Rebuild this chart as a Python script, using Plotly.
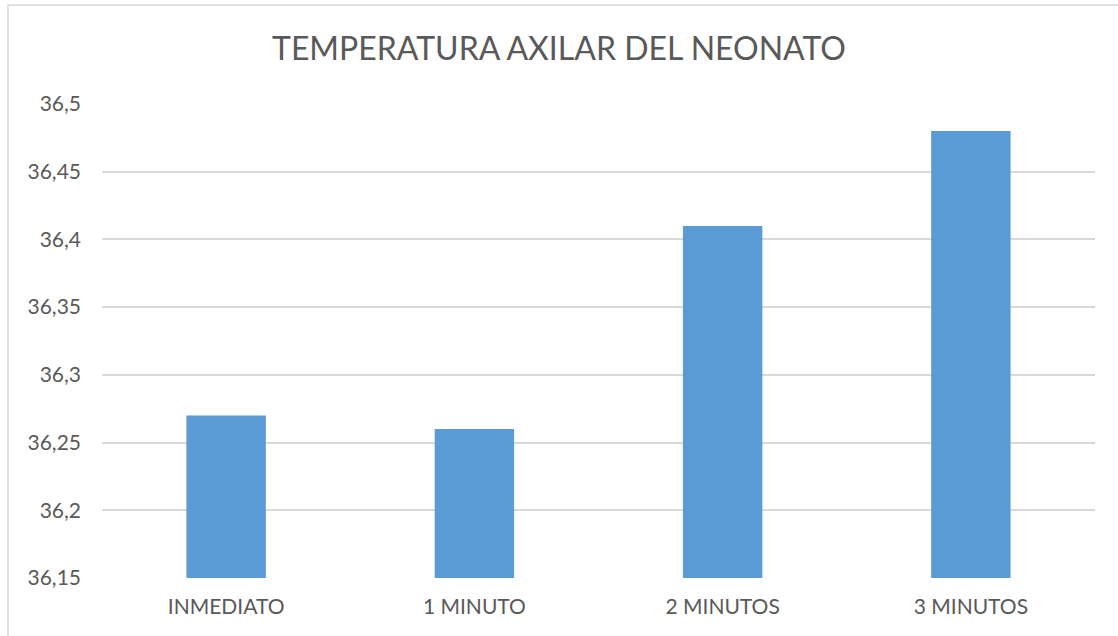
import plotly.graph_objects as go

categories = ["INMEDIATO", "1 MINUTO", "2 MINUTOS", "3 MINUTOS"]
values = [36.27, 36.26, 36.41, 36.48]
tick_vals = [36.15, 36.2, 36.25, 36.3, 36.35, 36.4, 36.45, 36.5]
tick_text = ["36,15", "36,2", "36,25", "36,3", "36,35", "36,4", "36,45", "36,5"]

W, H = 1118, 636
ml, mr, mt, mb = 102, 23, 104, 58
pw, ph = W - ml - mr, H - mt - mb

def px_x(p):
    return (p - ml) / pw

def px_y(p):
    return (H - mb - p) / ph

fig = go.Figure(go.Bar(
    x=categories, y=values, marker=dict(color="#5B9BD5", line=dict(width=0)),
))

font_family = "Lato, 'Open Sans', sans-serif"
fig.update_layout(
    width=W, height=H,
    margin=dict(l=ml, r=mr, t=mt, b=mb),
    paper_bgcolor="white", plot_bgcolor="white",
    bargap=0.68,
    showlegend=False,
    title=dict(text="TEMPERATURA AXILAR DEL NEONATO", x=0.5, xanchor="center",
               y=1 - 49 / H, yanchor="middle",
               font=dict(family=font_family, size=32, color="#595959")),
    font=dict(family=font_family, color="#595959", size=21),
    xaxis=dict(showgrid=False, showline=False, ticks="", ticklabelstandoff=14,
               tickfont=dict(size=21, color="#595959")),
    yaxis=dict(range=[36.15, 36.5], tickvals=tick_vals, ticktext=tick_text,
               showgrid=True, gridcolor="#D9D9D9", gridwidth=1.5, zeroline=False,
               showline=False, ticks="", ticklabelstandoff=20,
               tickfont=dict(size=21, color="#595959")),
    shapes=[dict(type="rect", xref="paper", yref="paper",
                 x0=px_x(8), x1=px_x(W + 20), y0=px_y(H + 20), y1=px_y(5),
                 line=dict(color="#D9D9D9", width=1.5), fillcolor="rgba(0,0,0,0)", layer="below")],
)

fig.write_html("out.html", config={"displayModeBar": False},
               post_script="document.body.style.margin='0';document.body.style.padding='0';")
